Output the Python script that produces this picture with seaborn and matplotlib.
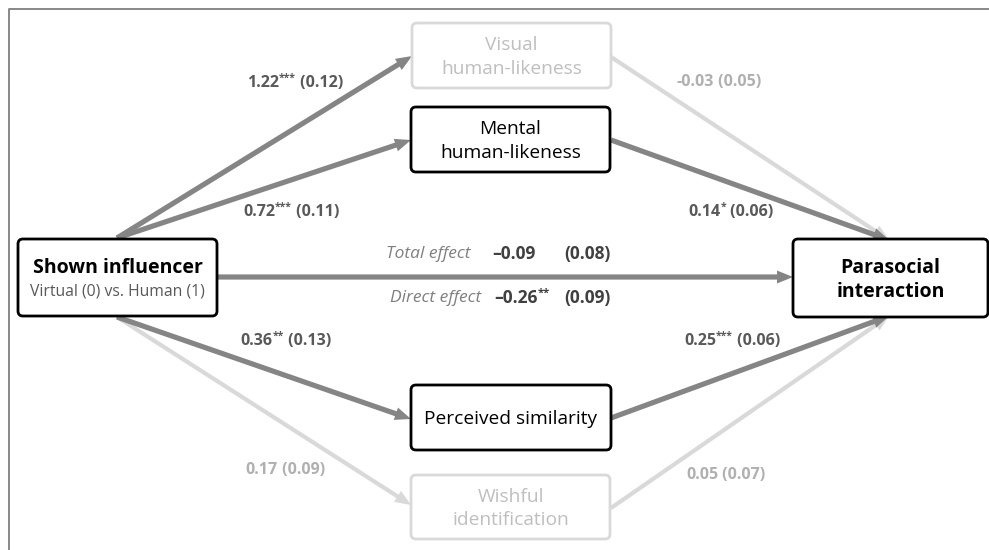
import matplotlib
matplotlib.use("Agg")
import matplotlib.pyplot as plt
from matplotlib.patches import FancyBboxPatch
import seaborn as sns

# ---------------- data ----------------
node_names = ["Shown influencer", "Visual\nhuman-likeness", "Mental\nhuman-likeness",
              "Perceived similarity", "Wishful\nidentification", "Parasocial\ninteraction"]
predictor_sub = "Virtual (0) vs. Human (1)"
mediators = ["Visual\nhuman-likeness", "Mental\nhuman-likeness",
             "Perceived similarity", "Wishful\nidentification"]
a_coef = [1.22, 0.72, 0.36, 0.17]
a_stars = ["***", "***", "**", ""]
a_se = [0.12, 0.11, 0.13, 0.09]
b_coef = [-0.03, 0.14, 0.25, 0.05]
b_stars = ["", "*", "***", ""]
b_se = [0.05, 0.06, 0.06, 0.07]
total_coef, total_stars, total_se = -0.09, "", 0.08
direct_coef, direct_stars, direct_se = -0.26, "**", 0.09

# ---------------- style ----------------
sns.set_theme(style="white")
plt.rcParams["font.family"] = ["Open Sans", "DejaVu Sans"]

DARK = "#858585"
LIGHT = "#d9d9d9"
TXT_DARK = "#595959"
TXT_LIGHT = "#b0b0b0"
TXT_NODE_LIGHT = "#bfbfbf"

W, H = 989, 550
fig = plt.figure(figsize=(W / 100, H / 100), dpi=100)
ax = fig.add_axes([0, 0, 1, 1])
ax.set_xlim(0, W)
ax.set_ylim(H, 0)
ax.axis("off")

# frame
ax.plot([8.5, 8.5, W + 5], [H + 5, 8.5, 8.5], color="#7f7f7f", lw=1.3, solid_capstyle="butt")

# ---------------- layout ----------------
pred_box = (18, 239, 217, 316)
out_box = (793, 239, 988, 317)
med_boxes = [(412, 23, 611, 88), (411, 107, 610, 172), (411, 385, 611, 450), (411, 475, 610, 539)]
a_ends = [(412, 56), (411, 140), (411, 419), (411, 505)]
a_starts = [(117, 238), (117, 238), (117, 317), (117, 317)]
b_starts = [(611, 57), (611, 140), (611, 418), (611, 508)]
b_ends = [(889, 240), (889, 240), (889, 316), (889, 316)]
a_label_pos = [(295, 83), (291, 212), (286, 341), (285, 470)]
b_label_pos = [(719, 82), (731, 212), (732, 341), (726, 475)]

renderer = fig.canvas.get_renderer()


def rich(x, y, parts, ha="center"):
    """parts: list of (text, fontsize, weight, style, color, dy, gap_after)"""
    texts = []
    for s, fs, wt, st, col, dy, gap in parts:
        t = ax.text(0, y + dy, s, fontsize=fs, fontweight=wt, fontstyle=st, color=col,
                    ha="left", va="center")
        texts.append((t, gap))
    widths = [t.get_window_extent(renderer).width for t, _ in texts]
    total = sum(widths) + sum(g for _, g in texts[:-1])
    cur = x - total / 2 if ha == "center" else (x if ha == "left" else x - total)
    for (t, gap), w in zip(texts, widths):
        t.set_x(cur)
        cur += w + gap


LBL = 11.5


def coef_label(x, y, coef, stars, se, color, dash="-"):
    num = f"{coef:.2f}".replace("-", dash)
    parts = [(num, LBL, "bold", "normal", color, 0, 0)]
    if stars:
        parts.append((stars, 7.5, "bold", "normal", color, -4.5, 0))
    parts.append((f" ({se:.2f})", LBL, "bold", "normal", color, 0, 0))
    rich(x, y, parts)


def box(b, edge, lw=2.0):
    x0, y0, x1, y1 = b
    p = FancyBboxPatch((x0, y0), x1 - x0, y1 - y0, boxstyle="round,pad=0,rounding_size=5",
                       fc="white", ec=edge, lw=lw, zorder=5)
    ax.add_patch(p)


def arrow(s, e, color, width):
    ax.arrow(s[0], s[1], e[0] - s[0], e[1] - s[1], width=width, head_width=13,
             head_length=16, length_includes_head=True, lw=0, color=color, zorder=2)


sig_a = [bool(s) for s in a_stars]
sig_b = [bool(s) for s in b_stars]

# light arrows first
for i in range(4):
    if not sig_a[i]:
        arrow(a_starts[i], a_ends[i], LIGHT, 4.2)
    if not sig_b[i]:
        arrow(b_starts[i], b_ends[i], LIGHT, 4.2)
for i in range(4):
    if sig_a[i]:
        arrow(a_starts[i], a_ends[i], DARK, 5.2)
    if sig_b[i]:
        arrow(b_starts[i], b_ends[i], DARK, 5.2)
# direct path
arrow((217, 277), (793, 277), DARK, 5.2)

# boxes
box(pred_box, "black")
box(out_box, "black")
for i, name in enumerate(mediators):
    active = sig_a[i] and sig_b[i]
    box(med_boxes[i], "black" if active else LIGHT)
    x0, y0, x1, y1 = med_boxes[i]
    ax.text((x0 + x1) / 2, (y0 + y1) / 2 + 1.5, name, ha="center", va="center",
            fontsize=13.8, color="black" if active else TXT_NODE_LIGHT, linespacing=1.36, zorder=6)

# predictor / outcome text
cx = (pred_box[0] + pred_box[2]) / 2
ax.text(cx, 268, node_names[0], ha="center", va="center", fontsize=14, fontweight="bold",
        color="black", zorder=6)
ax.text(cx, 291.5, predictor_sub, ha="center", va="center", fontsize=11.3, color=TXT_DARK, zorder=6)
ox = (out_box[0] + out_box[2]) / 2
ax.text(ox, 280, node_names[5], ha="center", va="center", fontsize=14, fontweight="bold",
        color="black", linespacing=1.26, zorder=6)

# path labels
for i in range(4):
    coef_label(*a_label_pos[i], a_coef[i], a_stars[i], a_se[i], TXT_DARK if sig_a[i] else TXT_LIGHT)
    coef_label(*b_label_pos[i], b_coef[i], b_stars[i], b_se[i], TXT_DARK if sig_b[i] else TXT_LIGHT)

# total / direct effect
EF = 12.5
ax.text(471, 254, "Total effect", ha="right", va="center", fontsize=EF, fontstyle="italic", color="#7f7f7f")
ax.text(492, 254, f"{total_coef:.2f}".replace("-", "–") + total_stars, ha="left", va="center",
        fontsize=EF, fontweight="bold", color="#404040")
ax.text(611, 254, f"({total_se:.2f})", ha="right", va="center", fontsize=EF, fontweight="bold", color="#404040")

ax.text(481, 298, "Direct effect", ha="right", va="center", fontsize=EF, fontstyle="italic", color="#7f7f7f")
rich(494, 298, [(f"{direct_coef:.2f}".replace("-", "–"), EF, "bold", "normal", "#404040", 0, 0),
                (direct_stars, 8, "bold", "normal", "#404040", -5, 0)], ha="left")
ax.text(611, 298, f"({direct_se:.2f})", ha="right", va="center", fontsize=EF, fontweight="bold", color="#404040")

fig.savefig("out.png", dpi=100)
